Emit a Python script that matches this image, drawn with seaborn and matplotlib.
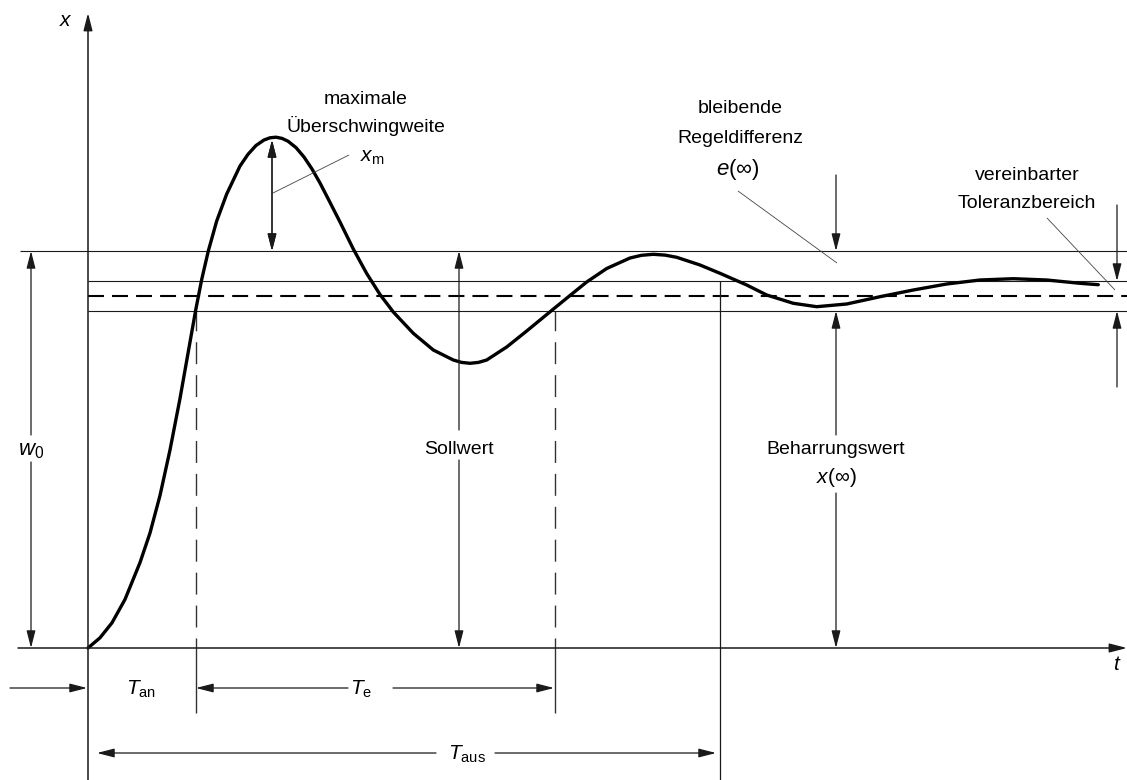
import matplotlib
matplotlib.use("Agg")
import matplotlib.pyplot as plt
import seaborn as sns
import pandas as pd

sns.set_theme(style="white")
plt.rcParams['font.family'] = ['Liberation Sans', 'DejaVu Sans']
plt.rcParams['mathtext.fontset'] = 'custom'
plt.rcParams['mathtext.rm'] = 'Liberation Sans'
plt.rcParams['mathtext.it'] = 'Liberation Sans:italic'
plt.rcParams['mathtext.sf'] = 'Liberation Sans'
plt.rcParams['lines.scale_dashes'] = False

# ---- data (time t, controlled variable x) ----
t_curve = [0, 12, 24, 37, 52, 62, 72, 82, 92, 99, 107.7, 113.7, 120.3, 128.7,
           138.7, 152, 160, 168, 176, 182, 188, 194, 200, 208, 216, 224, 232,
           240, 252, 265.3, 278.7, 292, 305.3, 325.3, 345.3, 365.3, 373.5, 382,
           390.5, 398.7, 418.7, 438.7, 463, 482, 498.7, 518.7, 542, 553.5, 565.3,
           577, 588.7, 612, 632, 658.7, 678.7, 705.3, 728.7, 758.7, 792, 825.3,
           858.7, 892, 925.3, 958.7, 992, 1010.3]
x_curve = [0, 10.2, 25.2, 48.6, 85.4, 115, 152.5, 198, 249.5, 289, 338, 368.5,
           397, 427, 454, 482, 493.7, 502.5, 508, 510.2, 510.8, 509.6, 506.8,
           500.4, 491, 479, 465, 449.5, 426, 399, 374.5, 353.5, 336, 314.7, 298,
           288, 285.6, 284.7, 285.6, 288, 301, 317, 337, 352.5, 366, 379.5, 390,
           392.7, 393.7, 392.9, 390.7, 383, 374.7, 363, 353, 344.7, 341.3, 344,
           351.3, 358, 364, 368, 369.3, 368, 364.7, 363.3]

w0 = 397          # Sollwert level
x_inf = 352.5     # Beharrungswert (dashed)
tol_hi = 367      # upper tolerance line
tol_lo = 337      # lower tolerance line
t_peak = 184      # time of maximum overshoot
x_peak = 508
t_an = 108        # end of Anregelzeit
t_e_end = 467     # end of Einschwingzeit
t_aus = 632       # end of Ausregelzeit
t_soll = 371
t_beh = 748
t_tol = 1029

df = pd.DataFrame({"t": t_curve, "x": x_curve})

fig = plt.figure(figsize=(11.27, 7.80), dpi=100)
ax = fig.add_axes([0, 0, 1, 1])
ax.set_xlim(-88, 1039)
ax.set_ylim(-132, 648)
ax.axis('off')

LC = '#1a1a1a'
FS = 14
AST = '-|>,head_length=0.7,head_width=0.18'
DST = '<|-|>,head_length=0.7,head_width=0.18'


def arrow(tail, tip, lw=0.9, style=AST):
    ax.annotate('', xy=tip, xytext=tail, xycoords='data',
                arrowprops=dict(arrowstyle=style, mutation_scale=15, lw=lw,
                                color=LC, shrinkA=0, shrinkB=0))


def line(xs, ys, lw=0.8, color=LC, **kw):
    ax.plot(xs, ys, lw=lw, color=color, solid_capstyle='butt', **kw)


# axes
arrow((-70, 0), (1039, 0), lw=1.1)
arrow((0, -132), (0, 635), lw=1.1)

# horizontal reference lines
line([-68, 1039], [w0, w0])
line([0, 1039], [tol_hi, tol_hi])
line([0, 1039], [tol_lo, tol_lo])
ax.plot([0, 1039], [x_inf, x_inf], lw=1.5, color='black',
        linestyle=(0, (11.5, 5.8)), dash_capstyle='butt')

# vertical time markers
for tv in (t_an, t_e_end):
    ax.plot([tv, tv], [21, tol_lo], lw=1.0, color='#333333',
            linestyle=(0, (15.8, 7.9)), dash_capstyle='butt')
    line([tv, tv], [10, -65], lw=1.0, color='#333333')
line([t_aus, t_aus], [-132, tol_hi], lw=0.9)

# step response curve
sns.lineplot(data=df, x="t", y="x", ax=ax, color='black', lw=2.4,
             sort=False, estimator=None, legend=False,
             solid_joinstyle='round', solid_capstyle='round')

# overshoot arrow + leader
arrow((t_peak, w0), (t_peak, x_peak), style=DST)
arrow((t_peak, x_peak), (t_peak, w0), style=DST)
line([t_peak + 1, 261], [455, 493], lw=0.6, color='#444444')

# w0 arrow (split around label)
arrow((-57, 213), (-57, w0))
arrow((-57, 186), (-57, 0))
# Sollwert arrow
arrow((t_soll, 218), (t_soll, w0))
arrow((t_soll, 188), (t_soll, 0))
# Beharrungswert arrow
arrow((t_beh, 213), (t_beh, tol_lo))
arrow((t_beh, 155), (t_beh, 0))
# e(inf) arrow + leader
arrow((t_beh, 473), (t_beh, w0))
line([650, 749], [457, 385], lw=0.6, color='#444444')
# tolerance arrows + leader
arrow((t_tol, 443), (t_tol, tol_hi))
arrow((t_tol, 261), (t_tol, tol_lo))
line([959, 1027], [430, 358], lw=0.6, color='#444444')

# time interval arrows
arrow((-78, -40), (-1, -40))
arrow((260, -40), (t_an, -40))
arrow((305, -40), (t_e_end - 1, -40))
arrow((348, -105), (9, -105))
arrow((407, -105), (t_aus - 4, -105))

# texts
def txt(tx, ty, s, ha='center', va='baseline', size=FS):
    ax.text(tx, ty, s, ha=ha, va=va, fontsize=size, color='black')

txt(-22, 627, r'$x$', va='center', size=15)
txt(1029, -16, r'$t$', va='center', size=15)
txt(278, 544, 'maximale')
txt(278, 516, 'Überschwingweite')
txt(272, 486, r'$x_{\mathrm{m}}$', ha='left', size=15)
txt(652, 535, 'bleibende')
txt(652, 505, 'Regeldifferenz')
txt(650, 473, r'$e(\infty)$', size=16)
txt(939, 468, 'vereinbarter')
txt(939, 440, 'Toleranzbereich')
txt(t_soll, 194, 'Sollwert')
txt(t_beh, 194, 'Beharrungswert')
txt(t_beh, 165, r'$x(\infty)$', size=15)
txt(-57, 193, r'$w_0$', size=16)
txt(53, -47, r'$T_{\mathrm{an}}$', size=15)
txt(273, -47, r'$T_{\mathrm{e}}$', size=15)
txt(379, -112, r'$T_{\mathrm{aus}}$', size=15)

fig.savefig('out.png', dpi=100)
